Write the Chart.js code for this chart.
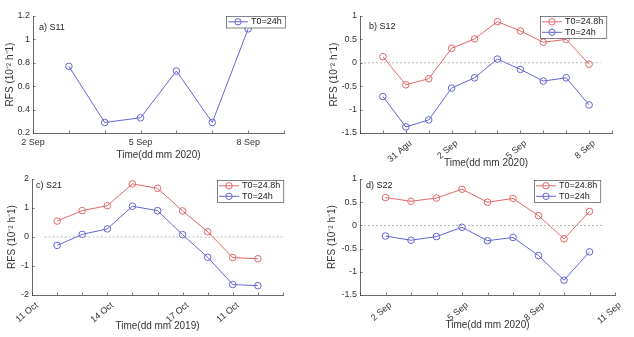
<!DOCTYPE html>
<html>
<head>
<meta charset="utf-8">
<script src="https://cdn.jsdelivr.net/npm/chart.js"></script>
<style>
  body { margin: 0; background: #fff; }
  #wrap { position: relative; width: 634px; height: 337px; }
  canvas { position: absolute; left: 0; top: 0; }
</style>
</head>
<body>
<div id="wrap">
  <canvas id="s11" width="634" height="337"></canvas>
  <canvas id="s12" width="634" height="337"></canvas>
  <canvas id="s21" width="634" height="337"></canvas>
  <canvas id="s22" width="634" height="337"></canvas>
</div>
<script>
// a) S11 - days of Sep 2020
const s11Days = [3, 4, 5, 6, 7, 8];
const s11T24 = [0.77, 0.29, 0.33, 0.73, 0.29, 1.09];
const s11TickPos = [2, 5, 8];
const s11TickText = ['2 Sep', '5 Sep', '8 Sep'];

// b) S12 - day index, 0 = 30 Agu 2020
const s12Days = [0, 1, 2, 3, 4, 5, 6, 7, 8, 9];
const s12T248 = [0.13, -0.47, -0.34, 0.31, 0.51, 0.88, 0.68, 0.44, 0.50, -0.03];
const s12T24 = [-0.72, -1.37, -1.22, -0.54, -0.32, 0.08, -0.14, -0.39, -0.32, -0.90];
const s12TickPos = [1, 3, 6, 9];
const s12TickText = ['31 Agu', '2 Sep', '5 Sep', '8 Sep'];
const s12Zero = [-1, 9.5];

// c) S21 - day index, 0 = 11 Oct 2019
const s21Days = [1, 2, 3, 4, 5, 6, 7, 8, 9];
const s21T248 = [0.55, 0.91, 1.08, 1.83, 1.68, 0.90, 0.18, -0.71, -0.75];
const s21T24 = [-0.29, 0.09, 0.28, 1.06, 0.91, 0.08, -0.70, -1.64, -1.68];
const s21TickPos = [0, 3, 6, 8];
const s21TickText = ['11 Oct', '14 Oct', '17 Oct', '11 Oct'];
const s21Zero = [0.5, 10];

// d) S22 - days of Sep 2020
const s22Days = [2, 3, 4, 5, 6, 7, 8, 9, 10];
const s22T248 = [0.60, 0.52, 0.59, 0.78, 0.50, 0.58, 0.21, -0.29, 0.30];
const s22T24 = [-0.23, -0.32, -0.24, -0.04, -0.33, -0.26, -0.65, -1.18, -0.57];
const s22TickPos = [2, 5, 8, 11];
const s22TickText = ['2 Sep', '5 Sep', '8 Sep', '11 Sep'];
const s22Zero = [1, 10.5];

const RED = '#e06868';
const BLUE = '#6464d6';
const AXIS = '#444';
const FONT = "'Liberation Sans', Arial, sans-serif";

Chart.defaults.font.family = FONT;
Chart.defaults.color = '#333';

// inward ticks, panel label and a MATLAB-like boxed legend
const decor = {
  id: 'decor',
  afterDatasetsDraw(chart, args, o) {
    const { ctx, chartArea: ca, scales: { x, y } } = chart;
    ctx.save();
    ctx.strokeStyle = AXIS;
    ctx.lineWidth = 0.7;
    ctx.beginPath();
    x.ticks.forEach(t => {
      const p = Math.round(x.getPixelForValue(t.value)) + 0.5;
      ctx.moveTo(p, ca.bottom);
      ctx.lineTo(p, ca.bottom - 2.5);
    });
    y.ticks.forEach(t => {
      const p = Math.round(y.getPixelForValue(t.value)) + 0.5;
      ctx.moveTo(ca.left, p);
      ctx.lineTo(ca.left + 2.5, p);
    });
    ctx.stroke();

    ctx.fillStyle = '#222';
    ctx.font = '9px ' + FONT;
    ctx.textBaseline = 'middle';
    ctx.textAlign = 'left';
    ctx.fillText(o.title, o.titleX, o.titleY);

    // legend
    const items = chart.data.datasets.filter(d => d.label);
    const tw = Math.max(...items.map(d => ctx.measureText(d.label).width));
    const w = 25 + tw + 3, h = items.length * 10.5 + 1;
    const lx = o.legendX, ly = o.legendY;
    ctx.fillStyle = '#fff';
    ctx.fillRect(lx, ly, w, h);
    ctx.strokeStyle = '#333';
    ctx.lineWidth = 0.6;
    ctx.strokeRect(lx + 0.5, ly + 0.5, w, h);
    items.forEach((d, i) => {
      const cy = ly + 5.8 + i * 10.5;
      ctx.strokeStyle = d.borderColor;
      ctx.lineWidth = 1;
      ctx.beginPath();
      ctx.moveTo(lx + 2, cy);
      ctx.lineTo(lx + 22, cy);
      ctx.stroke();
      ctx.beginPath();
      ctx.arc(lx + 12, cy, 3.2, 0, Math.PI * 2);
      ctx.stroke();
      ctx.fillStyle = '#222';
      ctx.fillText(d.label, lx + 25, cy);
    });
    ctx.restore();
  }
};

function series(label, xs, ys, color) {
  return {
    label: label,
    data: xs.map((v, i) => ({ x: v, y: ys[i] })),
    borderColor: color,
    backgroundColor: 'rgba(0,0,0,0)',
    borderWidth: 1,
    pointRadius: 3.3,
    pointBorderWidth: 1,
    pointBorderColor: color,
    tension: 0
  };
}

function zeroLine(xs) {
  return {
    data: xs.map(v => ({ x: v, y: 0 })),
    borderColor: '#aaa',
    borderWidth: 0.8,
    borderDash: [2, 2],
    pointRadius: 0
  };
}

function makePanel(id, p) {
  new Chart(document.getElementById(id), {
    type: 'line',
    data: { datasets: p.datasets },
    options: {
      responsive: false,
      animation: false,
      devicePixelRatio: 1,
      events: [],
      layout: { autoPadding: false, padding: p.pad },
      plugins: {
        legend: { display: false },
        tooltip: { enabled: false },
        decor: p.decor
      },
      scales: {
        x: {
          type: 'linear',
          min: p.xMin, max: p.xMax,
          afterFit: s => { s.height = p.xH; },
          grid: { display: false, drawTicks: false },
          border: { display: true, color: AXIS, width: 0.8 },
          ticks: {
            stepSize: 1,
            autoSkip: false,
            minRotation: p.rot, maxRotation: p.rot,
            padding: p.rot ? 5 : 4,
            labelOffset: p.rot ? 5 : 0,
            font: { size: 9 },
            callback: v => {
              const k = p.tickPos.indexOf(v);
              return k >= 0 ? p.tickText[k] : '';
            }
          },
          title: { display: true, text: p.xTitle, font: { size: 10 }, padding: 0 }
        },
        y: {
          min: p.yMin, max: p.yMax,
          afterFit: s => { s.width = p.yW; },
          grid: { display: false, drawTicks: false },
          border: { display: true, color: AXIS, width: 0.8 },
          ticks: {
            stepSize: p.yStep, padding: 3, font: { size: 9 },
            callback: v => String(Math.round(v * 10) / 10)
          },
          title: { display: true, text: 'RFS (10⁻² h⁻1)', font: { size: 10 }, padding: 0 }
        }
      }
    },
    plugins: [decor]
  });
}

makePanel('s11', {
  datasets: [series('T0=24h', s11Days, s11T24, BLUE)],
  xMin: 2, xMax: 9, yMin: 0.2, yMax: 1.2, yStep: 0.2, rot: 0,
  tickPos: s11TickPos, tickText: s11TickText, xTitle: 'Time(dd mm 2020)',
  pad: { left: 4, top: 16, right: 350, bottom: 176 }, yW: 29, xH: 28,
  decor: { title: 'a) S11', titleX: 39, titleY: 28, legendX: 226, legendY: 16 }
});

makePanel('s12', {
  datasets: [zeroLine(s12Zero), series('T0=24.8h', s12Days, s12T248, RED), series('T0=24h', s12Days, s12T24, BLUE)],
  xMin: -1, xMax: 10, yMin: -1.5, yMax: 1, yStep: 0.5, rot: 40,
  tickPos: s12TickPos, tickText: s12TickText, xTitle: 'Time(dd mm 2020)',
  pad: { left: 328, top: 16, right: 22, bottom: 168 }, yW: 32, xH: 36,
  decor: { title: 'b) S12', titleX: 369, titleY: 27, legendX: 540, legendY: 16 }
});

makePanel('s21', {
  datasets: [zeroLine(s21Zero), series('T0=24.8h', s21Days, s21T248, RED), series('T0=24h', s21Days, s21T24, BLUE)],
  xMin: 0, xMax: 10, yMin: -2, yMax: 2, yStep: 1, rot: 40,
  tickPos: s21TickPos, tickText: s21TickText, xTitle: 'Time(dd mm 2019)',
  pad: { left: 6, top: 179, right: 351, bottom: 5 }, yW: 26, xH: 37,
  decor: { title: 'c) S21', titleX: 36, titleY: 186, legendX: 217, legendY: 180 }
});

makePanel('s22', {
  datasets: [zeroLine(s22Zero), series('T0=24.8h', s22Days, s22T248, RED), series('T0=24h', s22Days, s22T24, BLUE)],
  xMin: 1, xMax: 11, yMin: -1.5, yMax: 1, yStep: 0.5, rot: 40,
  tickPos: s22TickPos, tickText: s22TickText, xTitle: 'Time(dd mm 2020)',
  pad: { left: 326, top: 179, right: 19, bottom: 6 }, yW: 34, xH: 36,
  decor: { title: 'd) S22', titleX: 366, titleY: 186, legendX: 534, legendY: 180 }
});
</script>
</body>
</html>
